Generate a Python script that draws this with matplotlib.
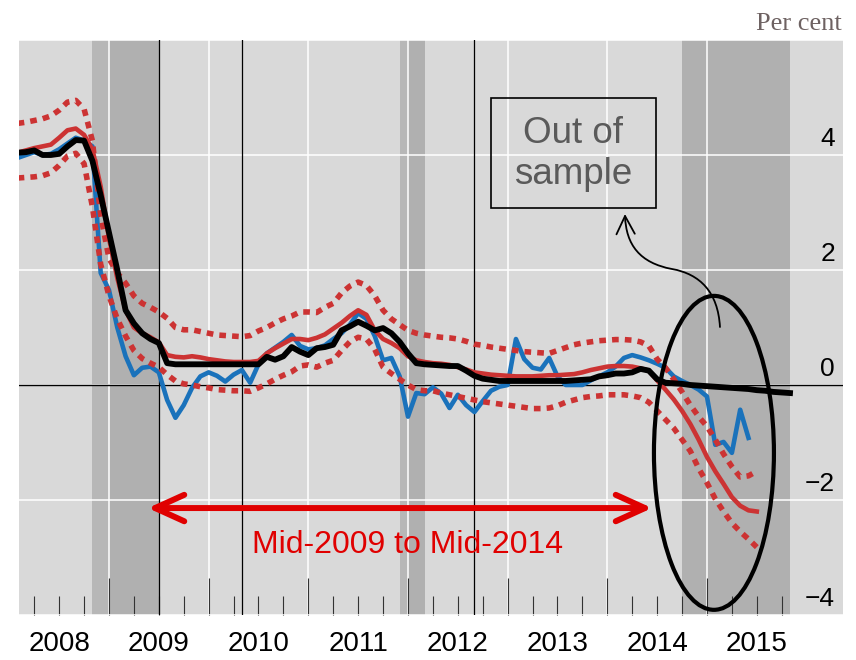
import numpy as np
import matplotlib
matplotlib.use("Agg")
import matplotlib.pyplot as plt
import matplotlib.transforms as mtransforms
from matplotlib.patches import Ellipse, Rectangle, FancyArrowPatch
from matplotlib.path import Path

plt.rcParams['font.family'] = ['Liberation Sans', 'DejaVu Sans']

# monthly series, first point is Feb 2008
black_series = [
    4.04, 4.05, 4.08, 4.00, 4.00, 4.02, 4.15, 4.26, 4.25, 3.90,
    3.30, 2.65, 2.00, 1.30, 1.07, 0.90, 0.80, 0.73, 0.38, 0.36,
    0.36, 0.36, 0.36, 0.36, 0.36, 0.36, 0.36, 0.36, 0.36, 0.36,
    0.49, 0.44, 0.50, 0.66, 0.58, 0.52, 0.64, 0.66, 0.70, 0.95,
    1.02, 1.10, 1.03, 0.95, 0.99, 0.90, 0.75, 0.55, 0.38, 0.36,
    0.35, 0.34, 0.33, 0.33, 0.25, 0.16, 0.11, 0.09, 0.07, 0.07,
    0.07, 0.07, 0.07, 0.07, 0.07, 0.07, 0.07, 0.08, 0.09, 0.10,
    0.15, 0.17, 0.20, 0.20, 0.22, 0.28, 0.25, 0.10, 0.04, 0.03,
    0.02, 0.00, -0.01, -0.02, -0.03, -0.04, -0.05, -0.06, -0.07, -0.09,
    -0.10, -0.12, -0.13, -0.14,
]
actual = [
    3.95, 4.00, 4.05, 4.00, 4.02, 4.10, 4.20, 4.30, 4.25, 4.15,
    1.95, 1.65, 1.00, 0.50, 0.17, 0.30, 0.32, 0.22, -0.26, -0.57,
    -0.35, -0.05, 0.15, 0.22, 0.16, 0.06, 0.18, 0.26, 0.04, 0.36,
    0.55, 0.65, 0.75, 0.87, 0.68, 0.62, 0.64, 0.69, 0.80, 0.90,
    1.05, 1.25, 1.15, 0.85, 0.43, 0.47, 0.15, -0.55, -0.14, -0.16,
    -0.04, -0.15, -0.40, -0.17, -0.35, -0.47, -0.28, -0.10, -0.03, 0.00,
    0.80, 0.45, 0.30, 0.27, 0.47, 0.15, 0.00, 0.00, 0.00, 0.08,
    0.15, 0.22, 0.32, 0.47, 0.52, 0.48, 0.43, 0.37, 0.30, 0.15,
    0.07, 0.00, -0.08, -0.20, -1.04, -0.99, -1.18, -0.43, -0.92,
]
model = [
    4.04, 4.08, 4.12, 4.15, 4.18, 4.30, 4.43, 4.46, 4.35, 4.10,
    3.45, 2.55, 1.86, 1.30, 1.00, 0.90, 0.83, 0.74, 0.52, 0.49,
    0.48, 0.50, 0.48, 0.45, 0.43, 0.41, 0.40, 0.40, 0.40, 0.42,
    0.55, 0.64, 0.72, 0.80, 0.80, 0.78, 0.82, 0.88, 0.98, 1.08,
    1.20, 1.30, 1.22, 0.95, 0.80, 0.73, 0.64, 0.50, 0.43, 0.40,
    0.38, 0.37, 0.35, 0.31, 0.27, 0.22, 0.20, 0.18, 0.17, 0.16,
    0.15, 0.15, 0.15, 0.16, 0.17, 0.17, 0.18, 0.19, 0.22, 0.26,
    0.29, 0.32, 0.33, 0.33, 0.32, 0.29, 0.25, 0.08, -0.08, -0.25,
    -0.45, -0.68, -0.95, -1.25, -1.50, -1.72, -1.95, -2.10, -2.18, -2.20,
]
model_hi = [
    4.55, 4.57, 4.60, 4.63, 4.68, 4.78, 4.92, 4.95, 4.80, 4.25,
    2.95, 2.20, 1.95, 1.77, 1.55, 1.42, 1.35, 1.27, 1.16, 1.00,
    0.96, 0.96, 0.93, 0.90, 0.87, 0.86, 0.85, 0.84, 0.86, 0.94,
    1.00, 1.08, 1.15, 1.20, 1.27, 1.27, 1.26, 1.35, 1.42, 1.60,
    1.72, 1.79, 1.73, 1.55, 1.30, 1.15, 1.05, 0.95, 0.90, 0.87,
    0.85, 0.83, 0.82, 0.80, 0.76, 0.71, 0.69, 0.66, 0.64, 0.62,
    0.60, 0.58, 0.57, 0.56, 0.55, 0.60, 0.65, 0.70, 0.73, 0.75,
    0.77, 0.78, 0.79, 0.79, 0.78, 0.75, 0.68, 0.45, 0.30, 0.10,
    -0.12, -0.35, -0.55, -0.72, -0.95, -1.20, -1.42, -1.60, -1.58, -1.50,
]
model_lo = [
    3.60, 3.61, 3.62, 3.64, 3.69, 3.82, 3.98, 4.03, 3.85, 3.10,
    2.10, 1.55, 1.15, 0.85, 0.60, 0.46, 0.38, 0.31, 0.18, 0.07,
    0.02, 0.00, -0.03, -0.05, -0.08, -0.09, -0.10, -0.10, -0.11, -0.05,
    0.02, 0.10, 0.17, 0.23, 0.33, 0.35, 0.31, 0.38, 0.43, 0.60,
    0.75, 0.83, 0.80, 0.62, 0.31, 0.20, 0.10, 0.00, -0.08, -0.10,
    -0.10, -0.14, -0.17, -0.20, -0.23, -0.26, -0.29, -0.31, -0.33, -0.35,
    -0.37, -0.39, -0.41, -0.41, -0.40, -0.36, -0.30, -0.26, -0.22, -0.20,
    -0.19, -0.17, -0.17, -0.17, -0.19, -0.22, -0.30, -0.45, -0.60, -0.75,
    -0.95, -1.15, -1.45, -1.70, -1.98, -2.20, -2.40, -2.55, -2.68, -2.82,
]

years = list(range(2008, 2016))
y_ticks = [-4, -2, 0, 2, 4]
y_labels = ['\u22124', '\u22122', '0', '2', '4']
# shaded periods (start, end, colour)
shades = [(2008.833, 2009.0, '#b7b7b7'), (2009.0, 2009.5, '#b0b0b0'),
          (2011.917, 2012.0, '#b7b7b7'), (2012.0, 2012.167, '#b0b0b0'),
          (2014.75, 2015.833, '#b0b0b0')]
event_lines = [2009.5, 2010.333, 2012.667]


def months(n):
    return 2008 + np.arange(1, n + 1) / 12.0


fig = plt.figure(figsize=(8.56, 6.60), dpi=100)
ax = fig.add_axes([19 / 856, 45 / 660, 824 / 856, 575 / 660])
ax.set_facecolor('#d9d9d9')
ax.set_xlim(2008.097, 2016.365)
ax.set_ylim(-4, 6)
for s in ax.spines.values():
    s.set_visible(False)

for a, b, c in shades:
    ax.axvspan(a, b, color=c, lw=0, zorder=0.2)

ax.set_xticks(range(2009, 2016))
quarters = [y + q / 4 for y in years for q in (1, 2, 3)]
ax.set_xticks(quarters, minor=True)
ax.set_yticks([-4, -2, 0, 2, 4, 6])
ax.tick_params(axis='x', which='major', direction='in', length=27, width=0.8,
               color='#333333', labelbottom=False)
ax.tick_params(axis='x', which='minor', direction='in', length=13.5, width=0.8,
               color='#333333', labelbottom=False)
ax.tick_params(axis='y', length=0, labelleft=False)
ax.grid(True, which='major', color='white', lw=1.1)
ax.set_axisbelow(True)

ax.axhline(0, color='black', lw=1.0, zorder=1.5)
for t in event_lines:
    ax.axvline(t, color='black', lw=0.9, zorder=1.5)

red = '#cc3333'
ax.plot(months(len(actual)), actual, color='#1a72bb', lw=3.3, zorder=3)
for band in (model_hi, model_lo):
    ax.plot(months(len(band)), band, color=red, lw=4.0, ls=(0, (1.2, 1.1)),
            dash_capstyle='butt', zorder=4)
ax.plot(months(len(model)), model, color=red, lw=3.3, zorder=4)
ax.plot(months(len(black_series)), black_series, color='black', lw=4.2, zorder=5)

# tick labels
xlab = mtransforms.blended_transform_factory(ax.transData, ax.transAxes)
for y in years:
    ax.text(y + 0.5, -0.05, str(y), transform=xlab, ha='center', va='center',
            fontsize=20)
ylab = mtransforms.blended_transform_factory(ax.transAxes, ax.transData)
for v, lab in zip(y_ticks, y_labels):
    ax.text(0.9903, v + 0.16, lab, transform=ylab, ha='right', va='baseline',
            fontsize=19)
fig.text(0.9836, 0.9545, 'Per cent', ha='right', va='baseline', fontsize=19,
         family='Liberation Serif', color='#6e6262')

# annotations
ax.add_patch(Ellipse((2015.07, -1.18), width=1.204, height=5.46, fill=False,
                     lw=3, ec='black', zorder=6))
ax.add_patch(Rectangle((2012.833, 3.078), 1.655, 1.912, fill=False, lw=1.2,
                       ec='black', zorder=6))
ax.text(2013.656, 4.02, 'Out of\nsample', ha='center', va='center',
        fontsize=26.5, color='#5a5a5a', linespacing=1.2, zorder=7)


def px(x, y):
    return (2008 + (x - 9.3) / 99.67, (385 - y) / 57.5)


verts = [px(720, 327), px(718, 292), px(700, 274), px(672, 269),
         px(640, 263), px(626, 245), px(625, 214)]
codes = [Path.MOVETO] + [Path.CURVE4] * 6
ax.add_patch(FancyArrowPatch(path=Path(verts, codes),
                             arrowstyle='->,head_length=0.65,head_width=0.33',
                             mutation_scale=20, lw=1.3, color='black', zorder=7))

ax.annotate('', xy=(2014.45, -2.14), xytext=(2009.39, -2.14),
            arrowprops=dict(arrowstyle='<->,head_length=0.75,head_width=0.34',
                            mutation_scale=28, lw=4.3, color='#e00000',
                            shrinkA=0, shrinkB=0), zorder=7)
ax.text(2012.0, -2.78, 'Mid-2009 to Mid-2014', color='#e00000', fontsize=23,
        ha='center', va='center', zorder=7)

fig.savefig('out.png', dpi=100)
